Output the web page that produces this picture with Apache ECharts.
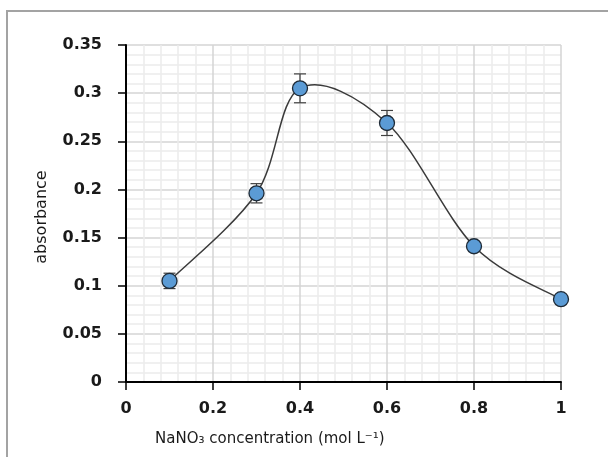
<!DOCTYPE html>
<html>
<head>
<meta charset="utf-8">
<script src="https://cdn.jsdelivr.net/npm/echarts@6/dist/echarts.min.js"></script>
<style>
html,body{margin:0;padding:0;background:#fff;}
#chart{width:608px;height:457px;}
</style>
</head>
<body>
<div id="chart"></div>
<script>
// Data
var concentrations = [0.1, 0.3, 0.4, 0.6, 0.8, 1.0];
var absorbance = [0.105, 0.196, 0.305, 0.269, 0.141, 0.086];
var errors = [0.008, 0.010, 0.015, 0.013, 0.004, 0.003];
var yTicks = ['0', '0.05', '0.1', '0.15', '0.2', '0.25', '0.3', '0.35'];
var xTicks = ['0', '0.2', '0.4', '0.6', '0.8', '1'];
var xTitle = 'NaNO\u2083 concentration (mol L\u207B\u00B9)';
var yTitle = 'absorbance';

var points = concentrations.map(function (x, i) { return [x, absorbance[i]]; });
var errData = concentrations.map(function (x, i) { return [x, absorbance[i], errors[i]]; });

var chart = echarts.init(document.getElementById('chart'), null, {renderer: 'canvas'});

function curveRender(params, api) {
  var pts = points.map(function (p) { return api.coord(p); });
  var n = pts.length;
  var d = 'M' + pts[0][0] + ' ' + pts[0][1];
  for (var i = 0; i < n - 1; i++) {
    var p0 = pts[Math.max(i - 1, 0)];
    var p1 = pts[i];
    var p2 = pts[i + 1];
    var p3 = pts[Math.min(i + 2, n - 1)];
    var c1x = p1[0] + (p2[0] - p0[0]) / 6;
    var c1y = p1[1] + (p2[1] - p0[1]) / 6;
    var c2x = p2[0] - (p3[0] - p1[0]) / 6;
    var c2y = p2[1] - (p3[1] - p1[1]) / 6;
    d += ' C' + c1x + ' ' + c1y + ' ' + c2x + ' ' + c2y + ' ' + p2[0] + ' ' + p2[1];
  }
  return {
    type: 'path',
    shape: {pathData: d},
    style: {fill: 'none', stroke: '#3a3a3a', lineWidth: 1.5}
  };
}

function errRender(params, api) {
  var x = api.value(0), y = api.value(1), e = api.value(2);
  var top = api.coord([x, y + e]);
  var bot = api.coord([x, y - e]);
  var hw = 6;
  var st = {stroke: '#404040', lineWidth: 1.2};
  return {
    type: 'group',
    children: [
      {type: 'line', shape: {x1: top[0], y1: top[1], x2: bot[0], y2: bot[1]}, style: st},
      {type: 'line', shape: {x1: top[0] - hw, y1: top[1], x2: top[0] + hw, y2: top[1]}, style: st},
      {type: 'line', shape: {x1: bot[0] - hw, y1: bot[1], x2: bot[0] + hw, y2: bot[1]}, style: st}
    ]
  };
}

var labelFont = {fontFamily: 'DejaVu Sans', fontWeight: 'bold', fontSize: 16, color: '#1a1a1a'};

chart.setOption({
  animation: false,
  backgroundColor: '#ffffff',
  grid: {left: 126, right: 47, top: 45, bottom: 75, containLabel: false},
  xAxis: {
    type: 'value', min: 0, max: 1, interval: 0.2,
    axisLine: {show: true, onZero: false, lineStyle: {color: '#000', width: 2}},
    axisTick: {show: true, inside: false, length: 8, lineStyle: {color: '#000', width: 1.5}},
    axisLabel: Object.assign({margin: 19, formatter: function (v) { return xTicks[Math.round(v / 0.2)]; }}, labelFont),
    splitLine: {show: true, lineStyle: {color: '#d4d4d4', width: 1.5}},
    minorTick: {show: false, splitNumber: 5},
    minorSplitLine: {show: true, lineStyle: {color: '#ececec', width: 1.5}}
  },
  yAxis: {
    type: 'value', min: 0, max: 0.35, interval: 0.05,
    axisLine: {show: true, onZero: false, lineStyle: {color: '#000', width: 2}},
    axisTick: {show: true, inside: false, length: 8, lineStyle: {color: '#000', width: 1.5}},
    axisLabel: Object.assign({margin: 24, formatter: function (v) { return yTicks[Math.round(v / 0.05)]; }}, labelFont),
    splitLine: {show: true, lineStyle: {color: '#d4d4d4', width: 1.5}},
    minorTick: {show: false, splitNumber: 5},
    minorSplitLine: {show: true, lineStyle: {color: '#ececec', width: 1.5}}
  },
  graphic: [
    {type: 'polyline', x: 0, y: 0, z: -1, silent: true,
     shape: {points: [[7, 470], [7, 11], [620, 11]]},
     style: {fill: 'none', stroke: '#a3a3a3', lineWidth: 2}},
    {type: 'text', x: 155, y: 432, silent: true,
     style: {text: xTitle, fontFamily: 'DejaVu Sans', fontSize: 15, fill: '#1a1a1a'}},
    {type: 'text', x: 42, y: 217, rotation: Math.PI / 2, silent: true,
     style: {text: yTitle, fontFamily: 'DejaVu Sans', fontSize: 16, fill: '#1a1a1a',
             align: 'center', verticalAlign: 'middle'}}
  ],
  series: [
    {type: 'custom', name: 'curve', data: [[0, 0]], renderItem: curveRender, z: 2, silent: true},
    {type: 'custom', name: 'err', data: errData, renderItem: errRender, z: 3, silent: true,
     encode: {x: 0, y: 1}},
    {type: 'scatter', name: 'absorbance', data: points, symbol: 'circle', symbolSize: 15, z: 4,
     itemStyle: {color: '#5b9bd5', borderColor: '#1e2a36', borderWidth: 1.3, opacity: 1}}
  ]
});
</script>
</body>
</html>
